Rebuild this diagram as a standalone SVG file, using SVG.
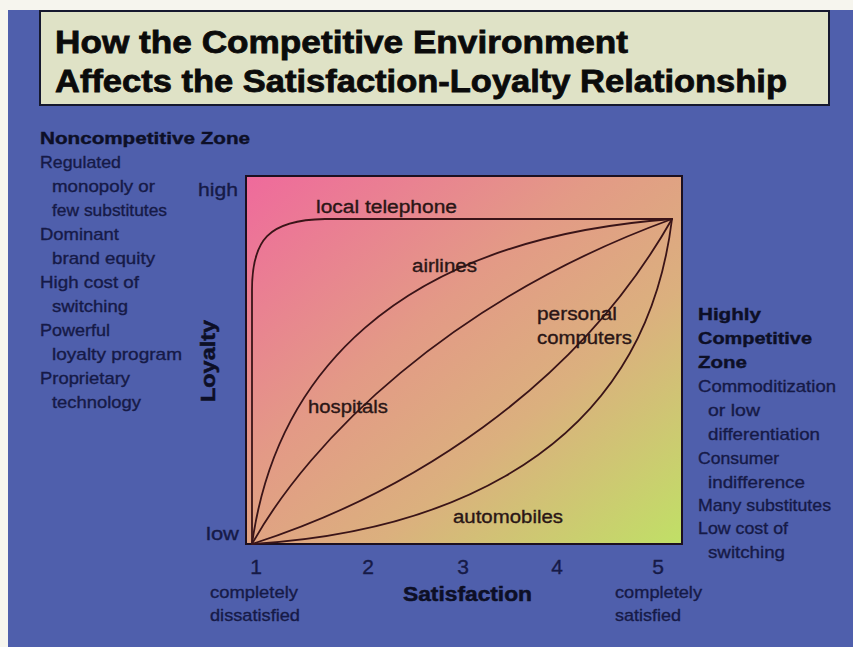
<svg xmlns="http://www.w3.org/2000/svg" width="853" height="647" viewBox="0 0 853 647">
  <defs>
    <linearGradient id="plotGrad" x1="0" y1="0" x2="1" y2="1">
      <stop offset="0" stop-color="#ef6a9c"/>
      <stop offset="0.4" stop-color="#e39a86"/>
      <stop offset="0.65" stop-color="#dbb07e"/>
      <stop offset="1" stop-color="#c0e066"/>
    </linearGradient>
    <style>
      .body { font-family: "Liberation Sans", Arial, sans-serif; font-size: 17px; fill: #161a47; stroke: #161a47; stroke-width: 0.35; }
      .head { font-family: "Liberation Sans", Arial, sans-serif; font-size: 17px; font-weight: bold; fill: #0d0f26; stroke: #0d0f26; stroke-width: 0.4; }
      .title { font-family: "Liberation Sans", Arial, sans-serif; font-size: 32px; font-weight: bold; fill: #0b0b0b; stroke: #0b0b0b; stroke-width: 0.8; }
      .inplot { font-family: "Liberation Sans", Arial, sans-serif; font-size: 18px; fill: #2a1616; stroke: #2a1616; stroke-width: 0.35; }
      .axis { font-family: "Liberation Sans", Arial, sans-serif; font-size: 19px; fill: #161a47; stroke: #161a47; stroke-width: 0.35; }
      .tick { font-family: "Liberation Sans", Arial, sans-serif; font-size: 21px; fill: #161a47; stroke: #161a47; stroke-width: 0.35; }
      .axisbold { font-family: "Liberation Sans", Arial, sans-serif; font-size: 20px; font-weight: bold; fill: #0d0f26; stroke: #0d0f26; stroke-width: 0.5; }
      .curve { fill: none; stroke: #3a1418; stroke-width: 1.8; stroke-linecap: round; stroke-linejoin: round; }
    </style>
  </defs>

  <!-- page and background -->
  <rect x="0" y="0" width="853" height="647" fill="#f6f5ee"/>
  <rect x="8" y="10" width="845" height="637" fill="#4f5fac"/>

  <!-- title -->
  <g id="title">
    <rect x="40" y="11" width="789" height="94" fill="#dfe2c6" stroke="#15182e" stroke-width="2"/>
    <text class="title" x="55" y="53" textLength="573" lengthAdjust="spacingAndGlyphs">How the Competitive Environment</text>
    <text class="title" x="55" y="92" textLength="732" lengthAdjust="spacingAndGlyphs">Affects the Satisfaction-Loyalty Relationship</text>
  </g>

  <!-- left zone -->
  <g id="noncompetitive-zone">
    <text class="head" x="40" y="144" textLength="210" lengthAdjust="spacingAndGlyphs">Noncompetitive Zone</text>
    <text class="body" x="40" y="168" textLength="81" lengthAdjust="spacingAndGlyphs">Regulated</text>
    <text class="body" x="52" y="192" textLength="103" lengthAdjust="spacingAndGlyphs">monopoly or</text>
    <text class="body" x="52" y="216" textLength="115" lengthAdjust="spacingAndGlyphs">few substitutes</text>
    <text class="body" x="40" y="240" textLength="79" lengthAdjust="spacingAndGlyphs">Dominant</text>
    <text class="body" x="52" y="264" textLength="103" lengthAdjust="spacingAndGlyphs">brand equity</text>
    <text class="body" x="40" y="288" textLength="99" lengthAdjust="spacingAndGlyphs">High cost of</text>
    <text class="body" x="52" y="312" textLength="76" lengthAdjust="spacingAndGlyphs">switching</text>
    <text class="body" x="40" y="336" textLength="70" lengthAdjust="spacingAndGlyphs">Powerful</text>
    <text class="body" x="52" y="360" textLength="130" lengthAdjust="spacingAndGlyphs">loyalty program</text>
    <text class="body" x="40" y="384" textLength="90" lengthAdjust="spacingAndGlyphs">Proprietary</text>
    <text class="body" x="52" y="408" textLength="89" lengthAdjust="spacingAndGlyphs">technology</text>
  </g>

  <!-- right zone -->
  <g id="competitive-zone">
    <text class="head" x="698" y="320" textLength="63" lengthAdjust="spacingAndGlyphs">Highly</text>
    <text class="head" x="698" y="344" textLength="114" lengthAdjust="spacingAndGlyphs">Competitive</text>
    <text class="head" x="698" y="368" textLength="49" lengthAdjust="spacingAndGlyphs">Zone</text>
    <text class="body" x="698" y="392" textLength="138" lengthAdjust="spacingAndGlyphs">Commoditization</text>
    <text class="body" x="708" y="416" textLength="52" lengthAdjust="spacingAndGlyphs">or low</text>
    <text class="body" x="708" y="440" textLength="112" lengthAdjust="spacingAndGlyphs">differentiation</text>
    <text class="body" x="698" y="464" textLength="81" lengthAdjust="spacingAndGlyphs">Consumer</text>
    <text class="body" x="708" y="488" textLength="97" lengthAdjust="spacingAndGlyphs">indifference</text>
    <text class="body" x="698" y="511" textLength="133" lengthAdjust="spacingAndGlyphs">Many substitutes</text>
    <text class="body" x="698" y="534" textLength="90" lengthAdjust="spacingAndGlyphs">Low cost of</text>
    <text class="body" x="708" y="558" textLength="77" lengthAdjust="spacingAndGlyphs">switching</text>
  </g>

  <!-- plot area -->
  <g id="plot">
    <rect x="246" y="176" width="436" height="368" fill="url(#plotGrad)" stroke="#1c1020" stroke-width="2"/>
  </g>

  <!-- curves -->
  <g id="curves">
    <path class="curve" d="M252,544 L252,290 C252,240 268,220 325,219 L672,219"/>
    <path class="curve" d="M252,544 C275,380 390,240 672,219"/>
    <path class="curve" d="M252,544 C310,440 450,300 672,219"/>
    <path class="curve" d="M252,544 C405,495 575,390 672,219"/>
    <path class="curve" d="M252,544 C400,535 640,480 672,219"/>
  </g>

  <!-- curve labels -->
  <g id="curve-labels">
    <text class="inplot" x="316" y="213" textLength="141" lengthAdjust="spacingAndGlyphs">local telephone</text>
    <text class="inplot" x="412" y="272" textLength="65" lengthAdjust="spacingAndGlyphs">airlines</text>
    <text class="inplot" x="537" y="320" textLength="80" lengthAdjust="spacingAndGlyphs">personal</text>
    <text class="inplot" x="537" y="344" textLength="95" lengthAdjust="spacingAndGlyphs">computers</text>
    <text class="inplot" x="308" y="413" textLength="80" lengthAdjust="spacingAndGlyphs">hospitals</text>
    <text class="inplot" x="453" y="523" textLength="110" lengthAdjust="spacingAndGlyphs">automobiles</text>
  </g>

  <!-- axes labels -->
  <g id="y-axis">
    <text class="axis" x="198" y="196" textLength="40" lengthAdjust="spacingAndGlyphs">high</text>
    <text class="axis" x="206" y="540" textLength="33" lengthAdjust="spacingAndGlyphs">low</text>
    <text class="axisbold" transform="translate(215,402) rotate(-90)" textLength="82" lengthAdjust="spacingAndGlyphs">Loyalty</text>
  </g>
  <g id="x-axis">
    <text class="tick" x="256" y="574" text-anchor="middle">1</text>
    <text class="tick" x="368" y="574" text-anchor="middle">2</text>
    <text class="tick" x="463" y="574" text-anchor="middle">3</text>
    <text class="tick" x="557" y="574" text-anchor="middle">4</text>
    <text class="tick" x="658" y="574" text-anchor="middle">5</text>
    <text class="body" x="210" y="598" textLength="88" lengthAdjust="spacingAndGlyphs">completely</text>
    <text class="body" x="210" y="621" textLength="90" lengthAdjust="spacingAndGlyphs">dissatisfied</text>
    <text class="axisbold" x="403" y="601" textLength="129" lengthAdjust="spacingAndGlyphs">Satisfaction</text>
    <text class="body" x="615" y="598" textLength="87" lengthAdjust="spacingAndGlyphs">completely</text>
    <text class="body" x="615" y="621" textLength="66" lengthAdjust="spacingAndGlyphs">satisfied</text>
  </g>
</svg>
